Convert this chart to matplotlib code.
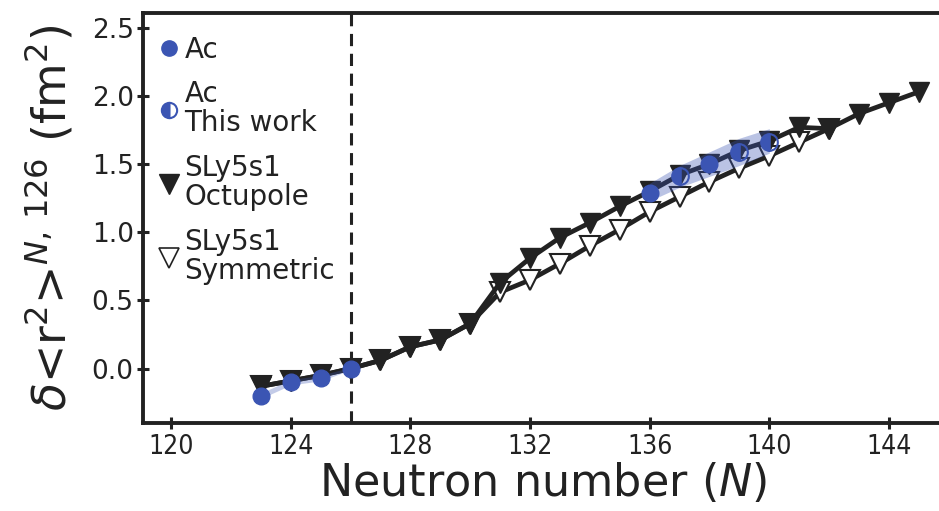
import numpy as np
import matplotlib
matplotlib.use("Agg")
import matplotlib.pyplot as plt
from matplotlib.lines import Line2D

# SLy5s1 charge radius shifts relative to N = 126
n_oct = [123, 124, 125, 126, 127, 128, 129, 130, 131, 132, 133, 134,
         135, 136, 137, 138, 139, 140, 141, 142, 143, 144, 145]
r_oct = [-0.13, -0.09, -0.05, 0.00, 0.06, 0.16, 0.21, 0.33, 0.63, 0.81, 0.96, 1.07,
         1.19, 1.30, 1.42, 1.50, 1.60, 1.67, 1.77, 1.76, 1.87, 1.95, 2.03]

n_sym = [123, 124, 125, 126, 127, 128, 129, 130, 131, 132, 133, 134,
         135, 136, 137, 138, 139, 140, 141, 142]
r_sym = [-0.13, -0.09, -0.05, 0.00, 0.06, 0.16, 0.21, 0.33, 0.56, 0.65, 0.77, 0.90,
         1.02, 1.15, 1.26, 1.37, 1.47, 1.56, 1.66, 1.76]

# Ac data: literature values and new measurements
n_lit = [123, 124, 125, 126]
r_lit = [-0.20, -0.10, -0.07, 0.00]
err_lit = [0.02, 0.02, 0.02, 0.01]

n_ac = [136, 137, 138, 139, 140]
r_ac = [1.29, 1.41, 1.50, 1.59, 1.66]
lo_ac = [1.23, 1.33, 1.41, 1.49, 1.58]
hi_ac = [1.36, 1.49, 1.59, 1.69, 1.76]
new_ac = [False, True, False, True, True]

blue = "#3b55b3"
dark = "#222222"

fig = plt.figure(figsize=(9.39, 5.11), dpi=100)
ax = fig.add_axes([0.152, 0.172, 0.852, 0.803])

ax.axvline(126, color=dark, ls=(0, (4, 2.5)), lw=2.2, zorder=1)

ax.plot(n_sym, r_sym, color=dark, lw=3.4, marker="v", ms=14, mfc="white",
        mec=dark, mew=1.5, zorder=2)
ax.plot(n_oct, r_oct, color=dark, lw=3.4, marker="v", ms=14, mfc=dark,
        mec=dark, zorder=3)

ax.fill_between(n_lit, np.array(r_lit) - err_lit, np.array(r_lit) + err_lit,
                color=blue, alpha=0.3, lw=0, zorder=4)
ax.fill_between(n_ac, lo_ac, hi_ac, color=blue, alpha=0.35, lw=0, zorder=4)

ax.plot(n_lit, r_lit, ls="none", marker="o", ms=12, color=blue, zorder=5)
for n, r, new in zip(n_ac, r_ac, new_ac):
    if new:
        ax.plot(n, r, ls="none", marker="o", ms=12, mfc=blue, mec=blue,
                fillstyle="left", markerfacecoloralt="none", mew=1.5, zorder=5)
    else:
        ax.plot(n, r, ls="none", marker="o", ms=12, color=blue, zorder=5)

ax.set_xlim(119.05, 145.8)
ax.set_ylim(-0.40, 2.61)
ax.set_xticks([120, 124, 128, 132, 136, 140, 144])
ax.set_yticks([0.0, 0.5, 1.0, 1.5, 2.0, 2.5])
ax.set_yticklabels(["0.0", "0.5", "1.0", "1.5", "2.0", "2.5"])

for s in ax.spines.values():
    s.set_linewidth(2.8)
    s.set_color(dark)
ax.tick_params(direction="inout", length=9, width=2.2, color=dark,
               labelcolor=dark)
ax.tick_params(axis="y", labelsize=19, pad=2)
ax.tick_params(axis="x", labelsize=19, pad=3)
for lab in ax.get_xticklabels():
    lab.set_fontstretch("condensed")

ax.set_xlabel(r"Neutron number ($N$)", fontsize=32, color=dark, labelpad=1)
ax.set_ylabel(r"$\delta$<r$^2$>$^{N,\,126}$ (fm$^2$)", fontsize=33,
              color=dark, labelpad=12)

handles = [
    Line2D([], [], ls="none", marker="o", ms=11, color=blue),
    Line2D([], [], ls="none", marker="o", ms=11, mfc=blue, mec=blue,
           fillstyle="left", markerfacecoloralt="white", mew=1.5),
    Line2D([], [], ls="none", marker="v", ms=14, color=dark),
    Line2D([], [], ls="none", marker="v", ms=14, mfc="white", mec=dark, mew=1.2),
]
labels = ["Ac", "Ac\nThis work", "SLy5s1\nOctupole", "SLy5s1\nSymmetric"]
leg = ax.legend(handles, labels, loc="upper left", bbox_to_anchor=(0.0, 0.985),
                frameon=False, fontsize=20,
                handlelength=0.7, handletextpad=0.2, labelspacing=0.6,
                borderaxespad=0.3, borderpad=0.3)
for t in leg.get_texts():
    t.set_color(dark)
    t.set_linespacing(1.05)

fig.savefig("out.png", dpi=100)
